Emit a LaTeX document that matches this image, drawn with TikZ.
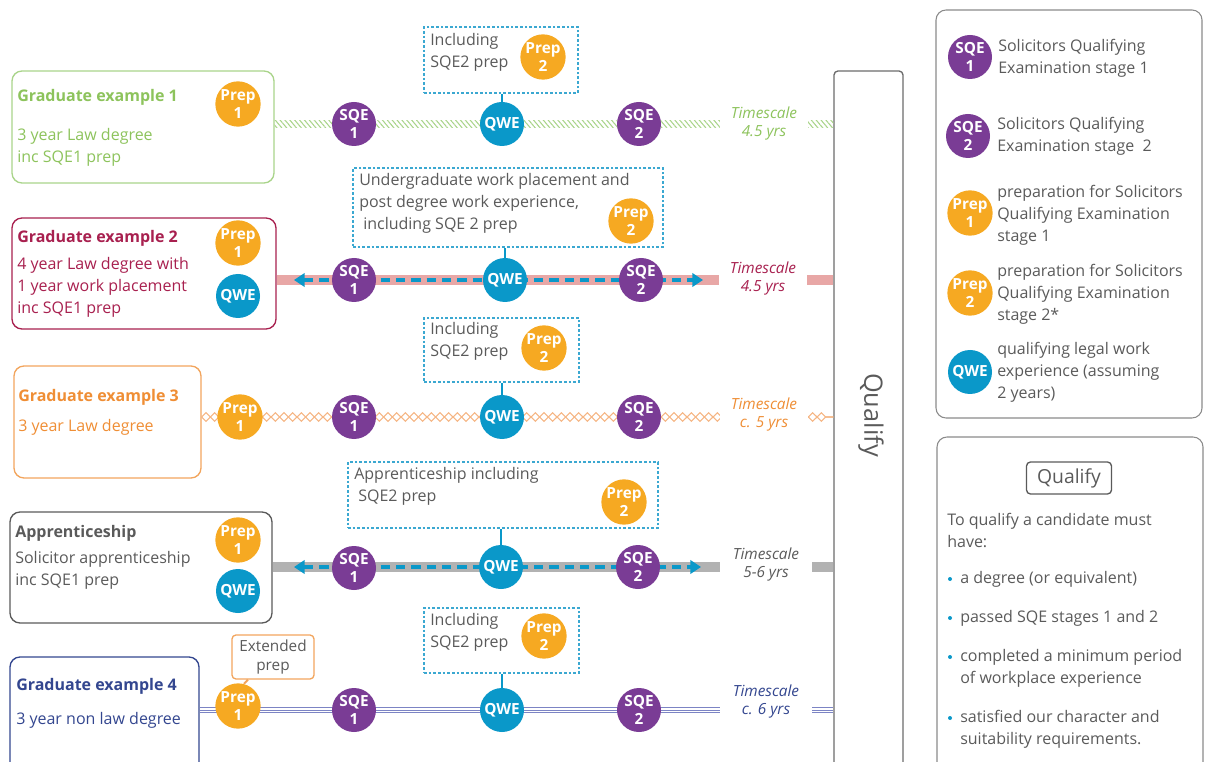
\documentclass[tikz,border=0pt]{standalone}
\usepackage{fontspec}
\setmainfont{Open Sans}
\usetikzlibrary{arrows.meta,patterns.meta,decorations.pathmorphing}
\definecolor{grnt}{HTML}{8DC35C}
\definecolor{grnb}{HTML}{A9D48A}
\definecolor{crim}{HTML}{A8204F}
\definecolor{pinkb}{HTML}{E8A7A6}
\definecolor{orgt}{HTML}{EF8E35}
\definecolor{orgz}{HTML}{F5B583}
\definecolor{prepc}{HTML}{F6A922}
\definecolor{purp}{HTML}{7A3C95}
\definecolor{qwec}{HTML}{0A98C9}
\definecolor{greyt}{HTML}{5A5A5A}
\definecolor{greyb}{HTML}{B2B2B2}
\definecolor{bluet}{HTML}{33468F}
\definecolor{bluel}{HTML}{7C84C4}
\definecolor{dashb}{HTML}{3BA8D1}

\begin{document}
\begin{tikzpicture}[
        x=0.75pt, y=-0.75pt,
        font=\fontsize{12}{16.5}\selectfont
    ]
    \tikzset{
        stage/.style = {circle, minimum size=33pt, inner sep=0pt, text=white, align=center, font=\fontsize{11.5}{13.5}\selectfont\bfseries},
        sqe/.style = {stage, fill=purp},
        prep/.style = {stage, fill=prepc},
        qwe/.style = {stage, fill=qwec},
        exbox/.style = {rounded corners=7.5pt, line width=1pt, minimum height=84pt},
        title/.style = {anchor=west, inner sep=0pt, font=\fontsize{12}{16.5}\selectfont\bfseries},
        body/.style = {anchor=west, inner sep=0pt, align=left},
        callout/.style = {draw=dashb, dash pattern=on 2pt off 1.5pt, line width=0.8pt},
        stem/.style = {draw=qwec, line width=2pt},
        tscale/.style = {fill=white, minimum width=66pt, align=center, font=\fontsize{11.5}{13.5}\selectfont\itshape},
        dashline/.style = {draw=qwec, line width=2.4pt, dash pattern=on 7pt off 4.5pt, {Triangle[length=8pt,width=10pt]}-{Triangle[length=8pt,width=10pt]}},
        zig/.style = {orgz, line width=0.8pt, decorate, decoration={zigzag, segment length=13pt, amplitude=3.2pt}},
        bullet/.style = {circle, fill=qwec, inner sep=0pt, minimum size=3pt},
        sidebox/.style = {draw=greyt!70, rounded corners=7.5pt, line width=0.8pt, minimum width=199.5pt},
    }
    \useasboundingbox (0,0) rectangle (1205,762);
    \clip (0,0) rectangle (1205,762);
    %
    \node[draw=greyt!90, rounded corners=3pt, line width=1pt, minimum width=51.75pt, minimum height=539.25pt] at (868.5,430.5) (qbar) {};
    \node[rotate=-90, text=greyt, font=\fontsize{19}{20}\selectfont] at (871,415) (qbart) {Qualify};
    %
    % row 1
    \node[exbox, draw=grnb, minimum width=196.5pt] at (143,127) (ex1) {};
    \node[title, text=grnt] at (17,97) (ex1t) {Graduate example 1};
    \node[body, text=grnt] at (17,147) (ex1b) {3 year Law degree\\inc SQE1 prep};
    \coordinate (r1) at (354,124);
    \fill[pattern={Lines[angle=-50,distance=2.8pt,line width=0.8pt]}, pattern color=grnb] ([yshift=2.6pt]ex1.east |- r1) rectangle ([yshift=-2.6pt]qbar.west |- r1);
    \node[prep] at (238,104) (ex1p) {Prep\\1};
    \node[sqe] at (354,124) (ex1s) {SQE\\1};
    \node[qwe] at (502,124) (ex1q) {QWE};
    \node[sqe] at (639,124) (ex1s2) {SQE\\2};
    \node[callout, minimum width=115.5pt, minimum height=49.5pt] at (501,60) (call1) {};
    \node[body, text=greyt] at (430,52) (call1t) {Including\\SQE2 prep};
    \node[prep] at (543,57) (call1p) {Prep\\2};
    \draw[stem] (ex1q.north) -- (ex1q.north |- call1.south);
    \node[tscale, text=grnt] at (764,124) (ts1) {Timescale\\4.5 yrs};
    %
    % row 2
    \node[exbox, draw=crim, minimum width=198pt, minimum height=83.25pt] at (144,273.5) (ex2) {};
    \node[title, text=crim] at (17,238) (ex2t) {Graduate example 2};
    \node[body, text=crim] at (17,287.5) (ex2b) {4 year Law degree with\\1 year work placement\\inc SQE1 prep};
    \coordinate (r2) at (354,280);
    \draw[pinkb, line width=7.5pt] (ex2.east |- r2) -- (qbar.west |- r2);
    \coordinate (a2l) at (294,280);
    \coordinate (a2r) at (703,280);
    \draw[dashline] (a2l) -- (a2r);
    \node[prep] at (238,243) (ex2p) {Prep\\1};
    \node[qwe] at (238,296) (ex2w) {QWE};
    \node[sqe] at (354,280) (ex2s) {SQE\\1};
    \node[qwe] at (505,280) (ex2q) {QWE};
    \node[sqe] at (641,280) (ex2s2) {SQE\\2};
    \node[callout, minimum width=232.5pt, minimum height=59.25pt] at (508,207.5) (call2) {};
    \node[body, text=greyt] at (359,203) (call2t) {Undergraduate work placement and\\post degree work experience,\\\hspace{3pt}including SQE 2 prep};
    \node[prep] at (631,221) (call2p) {Prep\\2};
    \draw[stem] (ex2q.north) -- (ex2q.north |- call2.south);
    \node[tscale, text=crim] at (763,279) (ts2) {Timescale\\4.5 yrs};
    %
    % row 3
    \node[exbox, draw=orgt!80, minimum width=140.25pt] at (107.5,422) (ex3) {};
    \node[title, text=orgt] at (18,397) (ex3t) {Graduate example 3};
    \node[body, text=orgt] at (18,427) (ex3b) {3 year Law degree};
    \coordinate (r3) at (354,417);
    \draw[zig] (ex3.east |- r3) -- (qbar.west |- r3);
    \draw[zig, decoration={mirror}] (ex3.east |- r3) -- (qbar.west |- r3);
    \node[prep] at (240,417) (ex3p) {Prep\\1};
    \node[sqe] at (354,417) (ex3s) {SQE\\1};
    \node[qwe] at (502,417) (ex3q) {QWE};
    \node[sqe] at (639,417) (ex3s2) {SQE\\2};
    \node[callout, minimum width=116.25pt, minimum height=48pt] at (501.5,350) (call3) {};
    \node[body, text=greyt] at (430,341) (call3t) {Including\\SQE2 prep};
    \node[prep] at (544,348) (call3p) {Prep\\2};
    \draw[stem] (ex3q.north) -- (ex3q.north |- call3.south);
    \node[tscale, text=orgt] at (764,415) (ts3) {Timescale\\c. 5 yrs};
    %
    % row 4
    \node[exbox, draw=greyt, minimum width=196.5pt, minimum height=83.25pt] at (141,567.5) (ex4) {};
    \node[title, text=greyt] at (15,533) (ex4t) {Apprenticeship};
    \node[body, text=greyt] at (15,570) (ex4b) {Solicitor apprenticeship\\inc SQE1 prep};
    \coordinate (r4) at (354,567);
    \draw[greyb, line width=7.5pt] (ex4.east |- r4) -- (qbar.west |- r4);
    \coordinate (a4l) at (294,567);
    \coordinate (a4r) at (701,567);
    \draw[dashline] (a4l) -- (a4r);
    \node[prep] at (238,540) (ex4p) {Prep\\1};
    \node[qwe] at (238,591) (ex4w) {QWE};
    \node[sqe] at (354,568) (ex4s) {SQE\\1};
    \node[qwe] at (501,567) (ex4q) {QWE};
    \node[sqe] at (638,567) (ex4s2) {SQE\\2};
    \node[callout, minimum width=232.5pt, minimum height=49.5pt] at (503,495) (call4) {};
    \node[body, text=greyt] at (354,486) (call4t) {Apprenticeship including\\\hspace{3pt}SQE2 prep};
    \node[prep] at (624,502) (call4p) {Prep\\2};
    \draw[stem] (ex4q.north) -- (ex4q.north |- call4.south);
    \node[tscale, text=greyt, minimum width=69pt] at (766,565) (ts4) {Timescale\\5-6 yrs};
    %
    % row 5
    \node[exbox, draw=bluet, minimum width=141.75pt, minimum height=99.75pt] at (104.5,723.5) (ex5) {};
    \node[title, text=bluet] at (16,686) (ex5t) {Graduate example 4};
    \node[body, text=bluet] at (16,720) (ex5b) {3 year non law degree};
    \coordinate (r5) at (354,710);
    \foreach \d in {-2.2pt,0pt,2.2pt}
        \draw[bluel, line width=0.7pt] ([yshift=\d]ex5.east |- r5) -- ([yshift=\d]qbar.west |- r5);
    \node[prep] at (238,706) (ex5p) {Prep\\1};
    \node[sqe] at (354,710) (ex5s) {SQE\\1};
    \node[qwe] at (502,710) (ex5q) {QWE};
    \node[sqe] at (639,710) (ex5s2) {SQE\\2};
    \node[callout, minimum width=116.25pt, minimum height=48.75pt] at (501.5,640.5) (call5) {};
    \node[body, text=greyt] at (430,632) (call5t) {Including\\SQE2 prep};
    \node[prep] at (544,636) (call5p) {Prep\\2};
    \draw[stem] (ex5q.north) -- (ex5q.north |- call5.south);
    \node[draw=orgt!80, rounded corners=3pt, line width=1pt, minimum width=61.5pt, minimum height=33pt, align=center, text=greyt, font=\fontsize{11.5}{14}\selectfont] at (273,657) (extp) {Extended\\prep};
    \draw[draw=orgt!80, line width=1.5pt] (ex5p.75) -- ([xshift=3pt]ex5p.75 |- extp.south);
    \node[tscale, text=bluet, minimum width=69pt] at (766,702) (ts5) {Timescale\\c. 6 yrs};
    %
    % key
    \node[sidebox, minimum height=306pt] at (1069,214) (key) {};
    \node[sqe] at (970,57) (k1) {SQE\\1};
    \node[body, text=greyt] at (998,58) (k1t) {Solicitors Qualifying\\Examination stage 1};
    \node[sqe] at (968,136) (k2) {SQE\\2};
    \node[body, text=greyt] at (997,136.5) (k2t) {Solicitors Qualifying\\Examination stage\ \ 2};
    \node[prep] at (970,213) (k3) {Prep\\1};
    \node[body, text=greyt] at (997,215) (k3t) {preparation for Solicitors\\Qualifying Examination\\stage 1};
    \node[prep] at (970,293) (k4) {Prep\\2};
    \node[body, text=greyt] at (997,294) (k4t) {preparation for Solicitors\\Qualifying Examination\\stage 2*};
    \node[qwe] at (970,372) (k5) {QWE};
    \node[body, text=greyt] at (997,372) (k5t) {qualifying legal work\\experience (assuming\\2 years)};
    %
    % qualify panel
    \node[sidebox, minimum height=264pt] at (1070,613) (qbox) {};
    \node[draw=greyt, rounded corners=3pt, line width=1pt, text=greyt, minimum width=63.75pt, minimum height=24pt, font=\fontsize{14.5}{16}\selectfont] at (1069,478) (qtitle) {Qualify};
    \node[body, text=greyt] at (947,530) (qintro) {To qualify a candidate must\\have:};
    \node[bullet] at (950,579) (b1) {};
    \node[body, text=greyt] at (960,579) (b1t) {a degree (or equivalent)};
    \node[bullet] at (950,618) (b2) {};
    \node[body, text=greyt] at (960,618) (b2t) {passed SQE stages 1 and 2};
    \node[bullet] at (950,657) (b3) {};
    \node[body, text=greyt] at (960,668) (b3t) {completed a minimum period\\of workplace experience};
    \node[bullet] at (950,718) (b4) {};
    \node[body, text=greyt] at (960,729) (b4t) {satisfied our character and\\suitability requirements.};
    \end{tikzpicture}
\end{document}
